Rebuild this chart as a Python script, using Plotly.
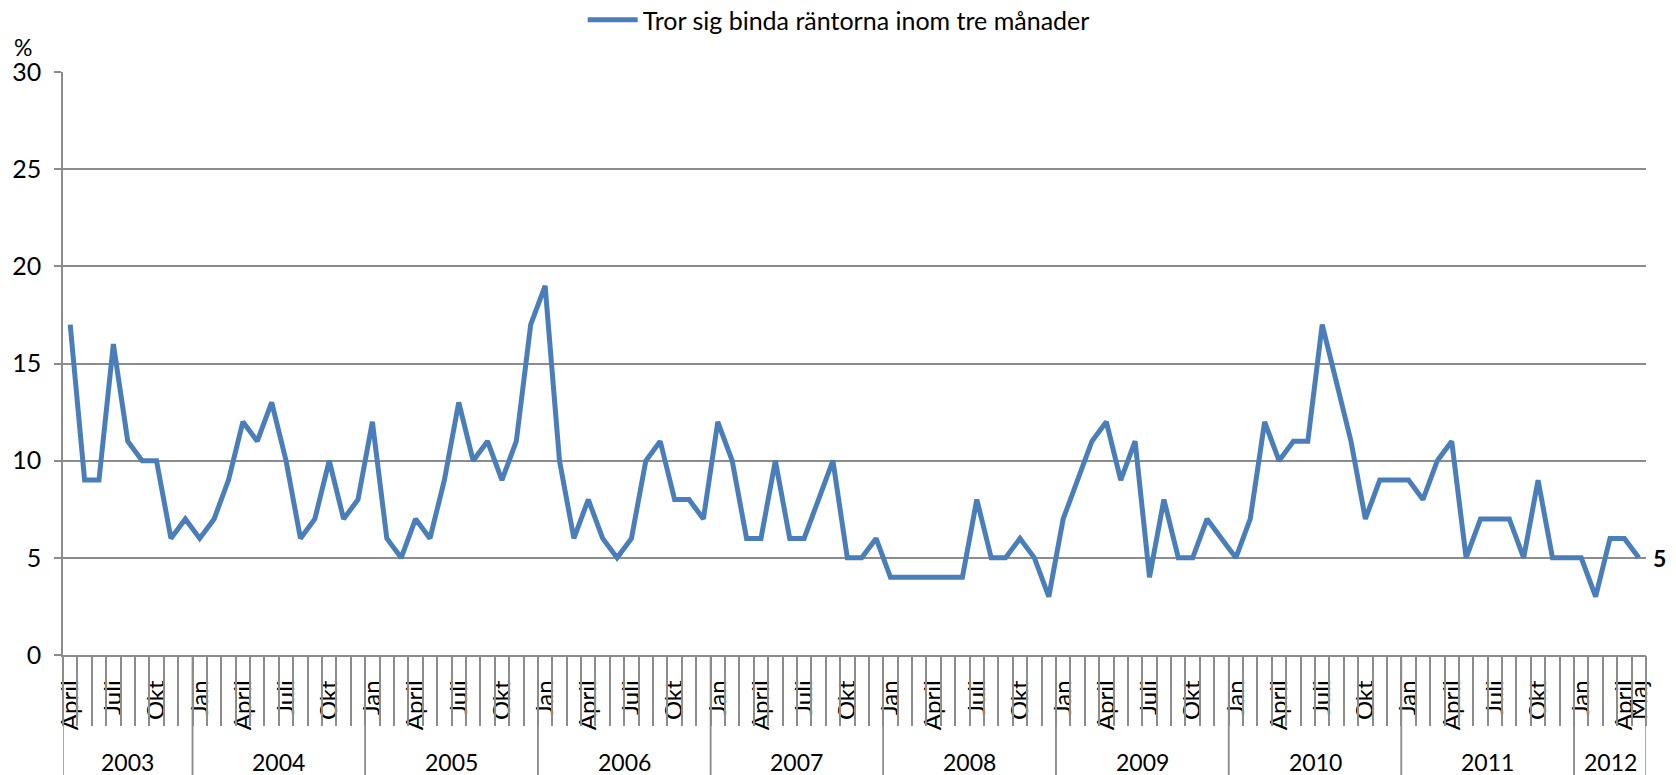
import plotly.graph_objects as go

# ---- data ----
start_year = 2003
start_month = 4  # April
values = [
    17, 9, 9, 16, 11, 10, 10, 6, 7,                 # 2003 Apr-Dec
    6, 7, 9, 12, 11, 13, 10, 6, 7, 10, 7, 8,        # 2004
    12, 6, 5, 7, 6, 9, 13, 10, 11, 9, 11, 17,       # 2005
    19, 10, 6, 8, 6, 5, 6, 10, 11, 8, 8, 7,         # 2006
    12, 10, 6, 6, 10, 6, 6, 8, 10, 5, 5, 6,         # 2007
    4, 4, 4, 4, 4, 4, 8, 5, 5, 6, 5, 3,             # 2008
    7, 9, 11, 12, 9, 11, 4, 8, 5, 5, 7, 6,          # 2009
    5, 7, 12, 10, 11, 11, 17, 14, 11, 7, 9, 9,      # 2010
    9, 8, 10, 11, 5, 7, 7, 7, 5, 9, 5, 5,           # 2011
    5, 3, 6, 6, 5,                                  # 2012 Jan-May
]
month_names = ["Jan", "Feb", "Mars", "April", "Maj", "Juni",
               "Juli", "Aug", "Sep", "Okt", "Nov", "Dec"]
shown_months = ["Jan", "April", "Juli", "Okt"]
series_name = "Tror sig binda räntorna inom tre månader"
y_ticks = [0, 5, 10, 15, 20, 25, 30]

# ---- derive month/year of each observation ----
n = len(values)
idx = list(range(n))
years, months = [], []
y, m = start_year, start_month
for i in idx:
    years.append(y)
    months.append(month_names[m - 1])
    m += 1
    if m > 12:
        m = 1
        y += 1

tick_vals = [i for i in idx if months[i] in shown_months or i == n - 1]
tick_text = [months[i] for i in tick_vals]
year_list = sorted(set(years))
year_first = [years.index(yy) for yy in year_list]
year_last = [n - 1 - years[::-1].index(yy) for yy in year_list]

BLUE = "#4A7EBB"
GRID = "#8C8C8C"
FONT = "Lato"

# figure geometry (page body adds an 8px offset)
W, H = 1668, 767
ML, MR, MT, MB = 55, 30, 64, 120
PH = H - MT - MB

fig = go.Figure()
fig.add_trace(go.Scatter(
    x=idx, y=values, mode="lines", name=series_name,
    line=dict(color=BLUE, width=5), hoverinfo="y",
))
# helper trace for month tick marks on the overlay axis
fig.add_trace(go.Scatter(
    x=idx, y=values, xaxis="x2", mode="lines",
    line=dict(width=0), opacity=0, showlegend=False, hoverinfo="skip",
))

shapes = []
for a, b in zip(year_first, year_last):
    for xb in (a - 0.5, b + 0.5):
        shapes.append(dict(type="line", xref="x", yref="paper",
                           x0=xb, x1=xb, y0=0, y1=-(MB / PH),
                           line=dict(color=GRID, width=1.5)))
annotations = [dict(
    text=str(yy), xref="x", yref="paper", x=(a + b) / 2,
    y=-(107 / PH), xanchor="center", yanchor="middle", showarrow=False,
    font=dict(family=FONT, size=23, color="black"))
    for yy, a, b in zip(year_list, year_first, year_last)]
annotations.append(dict(
    text="%", xref="paper", yref="paper", x=-0.0255, y=1 + 25 / PH,
    xanchor="center", yanchor="middle", showarrow=False,
    font=dict(family=FONT, size=23, color="black")))
# data label on the last point
annotations.append(dict(
    text="<b>%d</b>" % values[-1], xref="x", yref="y",
    x=idx[-1], y=values[-1], xanchor="left", yanchor="middle",
    xshift=12, showarrow=False,
    font=dict(family=FONT, size=23, color="black")))

fig.update_layout(
    width=W, height=H,
    margin=dict(l=ML, r=MR, t=MT, b=MB),
    paper_bgcolor="white", plot_bgcolor="white",
    font=dict(family=FONT, size=22, color="black"),
    showlegend=True,
    legend=dict(orientation="h", x=0.49, xanchor="center",
                yref="container", y=1 - 12 / H, yanchor="middle",
                font=dict(family=FONT, size=25), itemwidth=50),
    xaxis=dict(
        type="linear", range=[-0.5, n - 0.5], tickvals=tick_vals,
        ticktext=tick_text, tickangle=-90, ticks="",
        showline=True, linecolor=GRID, linewidth=1.5,
        showgrid=False, zeroline=False, automargin=False,
        tickfont=dict(family=FONT, size=24), ticklabelstandoff=14,
    ),
    xaxis2=dict(
        overlaying="x", anchor="y", side="bottom", type="linear",
        range=[-0.5, n - 0.5], tick0=0.5, dtick=1, ticks="outside",
        ticklen=70, tickcolor=GRID, tickwidth=1.5, automargin=False,
        showticklabels=False, showgrid=False, zeroline=False,
    ),
    yaxis=dict(
        range=[0, 30], tickvals=y_ticks, showgrid=True, gridcolor=GRID,
        gridwidth=1.5, zeroline=False, showline=True, linecolor=GRID,
        linewidth=1.5, ticks="outside", ticklen=7, tickcolor=GRID,
        tickwidth=1.5, tickfont=dict(family=FONT, size=25),
        ticklabelstandoff=8, automargin=False,
    ),
    shapes=shapes,
    annotations=annotations,
)

fig.write_html("out.html")
